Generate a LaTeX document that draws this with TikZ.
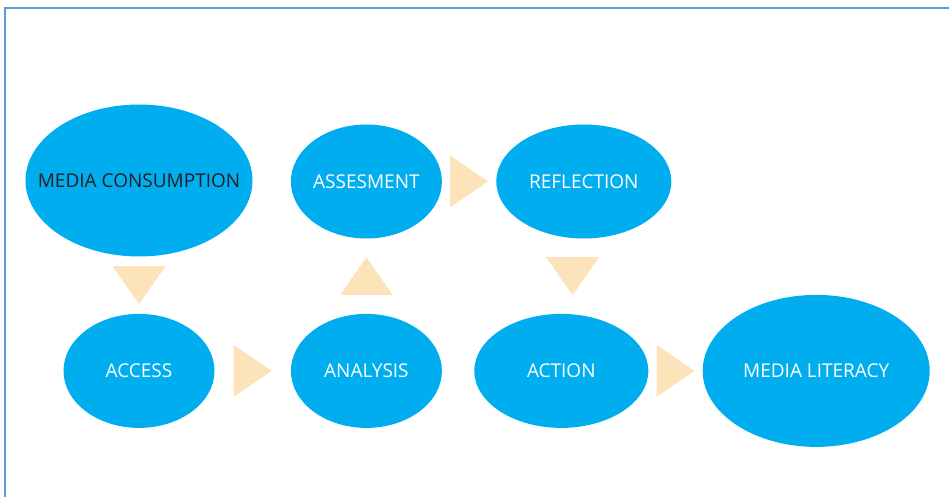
\documentclass[tikz,border=0pt]{standalone}
\usepackage{fontspec}
\setmainfont{Open Sans}
\usetikzlibrary{shapes.geometric, positioning, calc}
\definecolor{MLCyan}{HTML}{00AEEF}
\definecolor{MLPeach}{HTML}{FDE3BA}
\definecolor{MLInk}{HTML}{231F20}
\definecolor{MLFrame}{HTML}{5B9BD5}

\begin{document}
\begin{tikzpicture}[
    % 全局单位: 1pt = 1像素
    x=1pt, y=1pt,
    font=\fontsize{19}{22}\selectfont,
    % 样式定义
    stage/.style={
        ellipse,
        fill=MLCyan,
        draw=none,
        inner sep=0pt,
        text=white,
        minimum width=151pt,
        minimum height=114pt
    },
    widestage/.style={stage, minimum width=175pt},
    bigstage/.style={stage, minimum width=227pt, minimum height=152pt},
    flowtri/.style={fill=MLPeach, draw=none}
]

    % ====== 0. 外框 ======
    \useasboundingbox (0,0) rectangle (949,497);
    \draw[MLFrame, line width=1.3pt] (5,489) rectangle (960,-10);

    % ====== 1. 上行与左侧 ======
    % 文字太宽, 用 label 放在中心, 椭圆大小不受影响
    \node[bigstage, label={[text=MLInk]center:MEDIA CONSUMPTION}] (consume) at (139,316.5) {};
    \node[stage] (access) [below=57pt of consume] {ACCESS};
    \node[stage] (analysis) [right=76pt of access] {ANALYSIS};
    \node[stage] (assess) [above=75pt of analysis] {ASSESMENT};
    \node[widestage] (reflect) [right=54pt of assess] {REFLECTION};

    % ====== 2. 下行 ======
    \node[stage, minimum width=174pt] (action) [right=32pt of analysis] {ACTION};
    \node[bigstage] (literacy) [right=54pt of action] {MEDIA LITERACY};

    % ====== 3. 三角箭头 (放在两节点中点) ======
    \coordinate (t1) at ($(consume.south)!0.5!(access.north)$);
    \coordinate (t2) at ($(access.east)!0.5!(analysis.west)$);
    \coordinate (t3) at ($(analysis.north)!0.5!(assess.south)$);
    \coordinate (t4) at ($(assess.east)!0.5!(reflect.west)$);
    \coordinate (t5) at ($(reflect.south)!0.5!(action.north)$);
    \coordinate (t6) at ($(action.east)!0.5!(literacy.west)$);

    \fill[flowtri, shift={(t1)}, rotate=-90] (-19,26.5) -- (19,0) -- (-19,-26.5) -- cycle;
    \fill[flowtri, shift={(t2)}] (-19,26) -- (19,0) -- (-19,-26) -- cycle;
    \fill[flowtri, shift={(t3)}, rotate=90] (-19,26.5) -- (19,0) -- (-19,-26.5) -- cycle;
    \fill[flowtri, shift={(t4)}] (-19,26) -- (19,0) -- (-19,-26) -- cycle;
    \fill[flowtri, shift={(t5)}, rotate=-90] (-19,26.5) -- (19,0) -- (-19,-26.5) -- cycle;
    \fill[flowtri, shift={(t6)}] (-19,26) -- (19,0) -- (-19,-26) -- cycle;

\end{tikzpicture}
\end{document}
